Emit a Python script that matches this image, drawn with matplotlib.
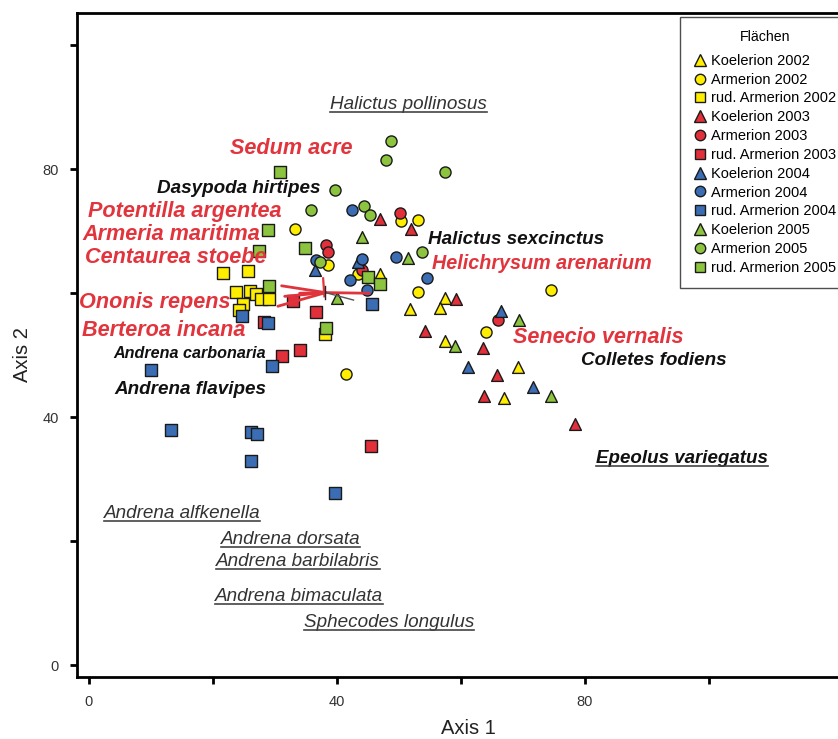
import matplotlib
matplotlib.use("Agg")
import matplotlib.pyplot as plt
from matplotlib.lines import Line2D

plt.rcParams['font.family'] = ['Liberation Sans', 'DejaVu Sans']

# ---------------- data ----------------
groups = ["Koelerion 2002", "Armerion 2002", "rud. Armerion 2002",
          "Koelerion 2003", "Armerion 2003", "rud. Armerion 2003",
          "Koelerion 2004", "Armerion 2004", "rud. Armerion 2004",
          "Koelerion 2005", "Armerion 2005", "rud. Armerion 2005"]

k02_x = [46.9, 51.8, 57.5, 56.7, 57.5, 69.2, 67.0]
k02_y = [63.1, 57.5, 59.3, 57.6, 52.3, 48.1, 43.1]
a02_x = [33.2, 50.3, 53.1, 38.6, 43.4, 53.1, 74.6, 64.0, 41.5]
a02_y = [70.3, 71.6, 71.8, 64.5, 63.1, 60.2, 60.6, 53.7, 46.9]
r02_x = [21.7, 25.6, 23.8, 26.0, 27.0, 27.8, 29.1, 24.9, 24.2, 38.1]
r02_y = [63.3, 63.6, 60.2, 60.3, 59.8, 59.1, 59.1, 58.2, 57.3, 53.5]

k03_x = [46.9, 52.0, 59.2, 54.2, 63.6, 65.9, 63.8, 78.5]
k03_y = [72.0, 70.4, 59.0, 53.9, 51.1, 46.8, 43.5, 38.9]
a03_x = [50.2, 38.2, 38.6, 44.1, 66.0]
a03_y = [73.0, 67.8, 66.7, 63.7, 55.7]
r03_x = [32.9, 36.6, 28.3, 34.0, 31.1, 45.5]
r03_y = [58.7, 57.0, 55.4, 50.8, 49.9, 35.4]

k04_x = [36.5, 43.4, 66.5, 61.1, 71.6]
k04_y = [63.8, 65.1, 57.2, 48.1, 44.9]
a04_x = [42.4, 36.7, 49.5, 44.1, 42.1, 44.8, 54.5]
a04_y = [73.5, 65.4, 65.9, 65.6, 62.1, 60.5, 62.5]
r04_x = [45.6, 24.7, 28.9, 29.5, 10.1, 13.3, 26.2, 27.2, 26.1, 39.7]
r04_y = [58.3, 56.3, 55.2, 48.3, 47.6, 38.0, 37.6, 37.3, 33.0, 27.8]

k05_x = [44.1, 51.5, 40.0, 69.4, 59.0, 74.5]
k05_y = [69.0, 65.7, 59.3, 55.7, 51.5, 43.4]
a05_x = [39.7, 35.8, 44.4, 45.3, 48.7, 48.0, 57.4, 53.7, 37.3]
a05_y = [76.6, 73.4, 74.0, 72.6, 84.5, 81.5, 79.6, 66.7, 65.1]
r05_x = [30.8, 28.9, 27.5, 34.8, 29.0, 45.0, 46.9, 38.2]
r05_y = [79.5, 70.2, 66.8, 67.3, 61.1, 62.6, 61.5, 54.4]

series_x = [k02_x, a02_x, r02_x, k03_x, a03_x, r03_x, k04_x, a04_x, r04_x, k05_x, a05_x, r05_x]
series_y = [k02_y, a02_y, r02_y, k03_y, a03_y, r03_y, k04_y, a04_y, r04_y, k05_y, a05_y, r05_y]

# biplot vectors (tail -> centroid) and extra joint lines
centroid = (38.2, 60.1)
vec_x = [31.1, 30.5, 34.0, 31.6]
vec_y = [61.2, 57.9, 60.0, 59.5]
right_vec = (45.2, 60.0)

# species labels: text, x, y, fontsize
red_labels = [("Sedum acre", 22.7, 83.4, 15.6), ("Potentilla argentea", -0.2, 73.2, 15.6),
              ("Armeria maritima", -1.1, 69.5, 15.6), ("Centaurea stoebe", -0.6, 65.8, 15.6),
              ("Ononis repens", -1.5, 58.5, 15.6), ("Berteroa incana", -1.1, 54.0, 15.6),
              ("Senecio vernalis", 68.5, 52.9, 15.6), ("Helichrysum arenarium", 55.3, 64.8, 14.2)]
black_labels = [("Dasypoda hirtipes", 11.0, 76.9, 13.6), ("Halictus sexcinctus", 54.7, 68.7, 13.6),
                ("Andrena carbonaria", 3.9, 50.3, 11.6), ("Andrena flavipes", 4.2, 44.4, 13.6),
                ("Colletes fodiens", 79.4, 49.2, 13.6)]
under_bold_labels = [("Epeolus variegatus", 81.8, 33.4)]
under_labels = [("Halictus pollinosus", 38.9, 90.5), ("Andrena alfkenella", 2.4, 24.4),
                ("Andrena dorsata", 21.3, 20.2), ("Andrena barbilabris", 20.5, 16.8),
                ("Andrena bimaculata", 20.3, 11.1), ("Sphecodes longulus", 34.7, 6.9)]

xticks = [0, 20, 40, 60, 80, 100]
xticklabels = ["0", "", "40", "", "80", ""]
yticks = [0, 20, 40, 60, 80, 100]
yticklabels = ["0", "", "40", "", "80", ""]

# ---------------- style ----------------
yellow, red, blue, green = "#FFEE00", "#E2303B", "#3B6DB4", "#8CC43F"
colors = [yellow] * 3 + [red] * 3 + [blue] * 3 + [green] * 3
markers = ["^", "o", "s"] * 4

W, H = 838, 739
fig = plt.figure(figsize=(W / 100, H / 100), dpi=100)
xlim = (-1.9, 122.0)
ylim = (-1.9, 105.2)
ax_left = 77 / W
ax_bottom = (H - 677) / H
ax_h = (677 - 13) / H
ax_w = (xlim[1] - xlim[0]) * 6.2 / W
ax = fig.add_axes([ax_left, ax_bottom, ax_w, ax_h])
ax.set_xlim(*xlim)
ax.set_ylim(*ylim)

for sx, sy, c, m in zip(series_x, series_y, colors, markers):
    ax.scatter(sx, sy, marker=m, s=64 if m != "^" else 72, c=c,
               edgecolors="#1a1a1a", linewidths=1.0, zorder=3)

# vectors
vcol = "#E0343C"
for vx, vy in zip(vec_x, vec_y):
    ax.plot([vx, centroid[0]], [vy, centroid[1]], color=vcol, lw=2.0, zorder=4,
            solid_capstyle="round")
ax.plot([centroid[0], right_vec[0]], [centroid[1], right_vec[1]], color=vcol, lw=2.0, zorder=4)
ax.plot([centroid[0] - 0.4, centroid[0] - 0.2], [centroid[1] + 2.3, centroid[1] - 0.6],
        color=vcol, lw=1.6, zorder=4)
ax.plot([centroid[0], centroid[0] + 4.5], [centroid[1], centroid[1] - 1.2], color="#555555", lw=1.0, zorder=4)
ax.plot([centroid[0] - 0.1, centroid[0] - 0.1], [centroid[1] - 1.0, centroid[1] + 1.0], color="#222222", lw=1.0, zorder=5)

# labels
for t, x, y, fs in red_labels:
    ax.text(x, y, t, color="#E2343D", fontsize=fs, fontweight="bold", fontstyle="italic",
            ha="left", va="center", zorder=6)
for t, x, y, fs in black_labels:
    ax.text(x, y, t, color="#111111", fontsize=fs, fontweight="bold", fontstyle="italic",
            ha="left", va="center", zorder=6)
under_texts = []
for t, x, y in under_bold_labels:
    under_texts.append(ax.text(x, y, t, color="#111111", fontsize=13.5, fontweight="bold",
                               fontstyle="italic", ha="left", va="center", zorder=6))
for t, x, y in under_labels:
    under_texts.append(ax.text(x, y, t, color="#333333", fontsize=13.6, fontstyle="italic",
                               ha="left", va="center", zorder=6))

# axes styling
for sp in ax.spines.values():
    sp.set_linewidth(2.0)
ax.set_xticks(xticks)
ax.set_xticklabels(xticklabels, fontsize=10.5, color="#333333")
ax.set_yticks(yticks)
ax.set_yticklabels(yticklabels, fontsize=10.5, color="#333333")
ax.tick_params(direction="out", length=5, width=2, pad=8)
fig.text(468 / W, 1 - 728 / H, "Axis 1", fontsize=14.5, ha="center", va="center", color="#222222")
fig.text(22 / W, 1 - 355 / H, "Axis 2", fontsize=14.5, ha="center", va="center", rotation=90, color="#222222")

# legend
handles = [Line2D([], [], linestyle="none", marker=m, markersize=7.5 if m != "^" else 8.5,
                  markerfacecolor=c, markeredgecolor="#1a1a1a", markeredgewidth=1.0)
           for c, m in zip(colors, markers)]
leg = ax.legend(handles, groups, title="Flächen", loc="upper left",
                bbox_to_anchor=(680 / W, 1 - 17 / H), bbox_transform=fig.transFigure,
                fontsize=10.5, title_fontsize=10.2, frameon=True, fancybox=False,
                borderpad=0.9, labelspacing=0.33, handletextpad=0.35, handlelength=0.9,
                borderaxespad=0)
leg._legend_box.sep = 7
leg.get_frame().set_edgecolor("#222222")
leg.get_frame().set_linewidth(1.0)
leg.set_zorder(10)

# underline texts
fig.canvas.draw()
renderer = fig.canvas.get_renderer()
for t in under_texts:
    bb = t.get_window_extent(renderer)
    yline = bb.y0 + 1
    fig.add_artist(Line2D([bb.x0 / W, bb.x1 / W], [yline / H, yline / H],
                          transform=fig.transFigure, color="#444444", lw=1.2))

fig.savefig("out.png", dpi=100)
